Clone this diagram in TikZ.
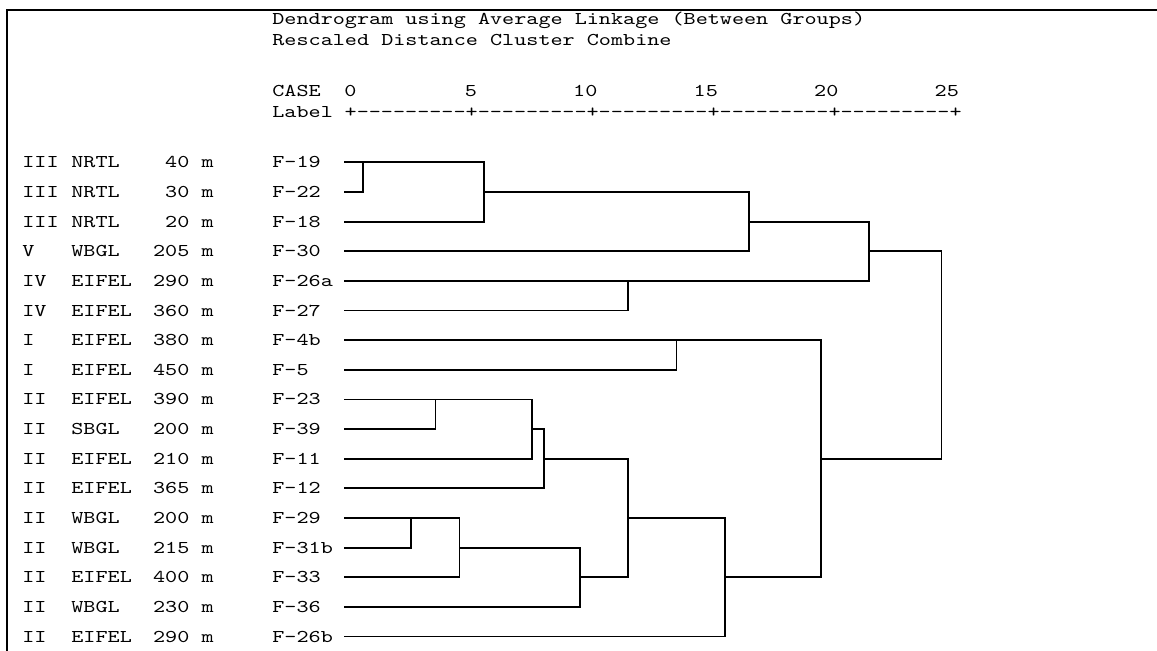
\documentclass[tikz,border=0pt]{standalone}
\usepackage{fontspec}
\newfontfamily\spssfont{lmmono10-regular.otf}[FakeStretch=1.28]

\begin{document}
\begin{tikzpicture}[x=0.5pt,y=0.5pt]
\tikzstyle{every node}+=[inner sep=0pt, font={\fontsize{9}{11}\spssfont}]
\tikzstyle{lbl}=[anchor=base west]
\tikzstyle{num}=[anchor=base east]
\tikzstyle{tick}=[anchor=base]
\tikzstyle{link}=[line width=0.9pt]
\useasboundingbox (0,0) rectangle (1157,-651);
\draw [link] (1157,-10) -| (7,-651);
\node [lbl] (title) at (272,-24.5) {Dendrogram using Average Linkage (Between Groups)};
\node [lbl] (subtitle) at (272,-46) {Rescaled Distance Cluster Combine};
\node [lbl] (case) at (272,-97) {CASE};
\node [tick] (t0) at (350.3,-97) {0};
\node [tick] (t5) at (470.8,-97) {5};
\node [tick] (t10) at (585.3,-97) {10};
\node [tick] (t15) at (705.8,-97) {15};
\node [tick] (t20) at (826.3,-97) {20};
\node [tick] (t25) at (946.8,-97) {25};
\node [lbl] (label) at (272,-118) {Label};
\node [lbl] (axis) at (344.3,-118) {+---------+---------+---------+---------+---------+};
\node [lbl] (g0) at (22,-167.9) {III};
\node [lbl] (a0) at (71,-167.9) {NRTL};
\node [num] (d0) at (214,-167.9) {40 m};
\node [lbl] (f19) at (272,-167.9) {F-19};
\node [lbl] (g1) at (22,-197.5) {III};
\node [lbl] (a1) at (71,-197.5) {NRTL};
\node [num] (d1) at (214,-197.5) {30 m};
\node [lbl] (f22) at (272,-197.5) {F-22};
\node [lbl] (g2) at (22,-227.2) {III};
\node [lbl] (a2) at (71,-227.2) {NRTL};
\node [num] (d2) at (214,-227.2) {20 m};
\node [lbl] (f18) at (272,-227.2) {F-18};
\node [lbl] (g3) at (22,-256.8) {V};
\node [lbl] (a3) at (71,-256.8) {WBGL};
\node [num] (d3) at (214,-256.8) {205 m};
\node [lbl] (f30) at (272,-256.8) {F-30};
\node [lbl] (g4) at (22,-286.5) {IV};
\node [lbl] (a4) at (71,-286.5) {EIFEL};
\node [num] (d4) at (214,-286.5) {290 m};
\node [lbl] (f26a) at (272,-286.5) {F-26a};
\node [lbl] (g5) at (22,-316.1) {IV};
\node [lbl] (a5) at (71,-316.1) {EIFEL};
\node [num] (d5) at (214,-316.1) {360 m};
\node [lbl] (f27) at (272,-316.1) {F-27};
\node [lbl] (g6) at (22,-345.7) {I};
\node [lbl] (a6) at (71,-345.7) {EIFEL};
\node [num] (d6) at (214,-345.7) {380 m};
\node [lbl] (f4b) at (272,-345.7) {F-4b};
\node [lbl] (g7) at (22,-375.4) {I};
\node [lbl] (a7) at (71,-375.4) {EIFEL};
\node [num] (d7) at (214,-375.4) {450 m};
\node [lbl] (f5) at (272,-375.4) {F-5};
\node [lbl] (g8) at (22,-405.0) {II};
\node [lbl] (a8) at (71,-405.0) {EIFEL};
\node [num] (d8) at (214,-405.0) {390 m};
\node [lbl] (f23) at (272,-405.0) {F-23};
\node [lbl] (g9) at (22,-434.7) {II};
\node [lbl] (a9) at (71,-434.7) {SBGL};
\node [num] (d9) at (214,-434.7) {200 m};
\node [lbl] (f39) at (272,-434.7) {F-39};
\node [lbl] (g10) at (22,-464.3) {II};
\node [lbl] (a10) at (71,-464.3) {EIFEL};
\node [num] (d10) at (214,-464.3) {210 m};
\node [lbl] (f11) at (272,-464.3) {F-11};
\node [lbl] (g11) at (22,-493.9) {II};
\node [lbl] (a11) at (71,-493.9) {EIFEL};
\node [num] (d11) at (214,-493.9) {365 m};
\node [lbl] (f12) at (272,-493.9) {F-12};
\node [lbl] (g12) at (22,-523.6) {II};
\node [lbl] (a12) at (71,-523.6) {WBGL};
\node [num] (d12) at (214,-523.6) {200 m};
\node [lbl] (f29) at (272,-523.6) {F-29};
\node [lbl] (g13) at (22,-553.2) {II};
\node [lbl] (a13) at (71,-553.2) {WBGL};
\node [num] (d13) at (214,-553.2) {215 m};
\node [lbl] (f31b) at (272,-553.2) {F-31b};
\node [lbl] (g14) at (22,-582.9) {II};
\node [lbl] (a14) at (71,-582.9) {EIFEL};
\node [num] (d14) at (214,-582.9) {400 m};
\node [lbl] (f33) at (272,-582.9) {F-33};
\node [lbl] (g15) at (22,-612.5) {II};
\node [lbl] (a15) at (71,-612.5) {WBGL};
\node [num] (d15) at (214,-612.5) {230 m};
\node [lbl] (f36) at (272,-612.5) {F-36};
\node [lbl] (g16) at (22,-642.1) {II};
\node [lbl] (a16) at (71,-642.1) {EIFEL};
\node [num] (d16) at (214,-642.1) {290 m};
\node [lbl] (f26b) at (272,-642.1) {F-26b};
\coordinate (c0) at (344,-162.4);
\coordinate (c1) at (344,-192.0);
\coordinate (c2) at (344,-221.7);
\coordinate (c3) at (344,-251.3);
\coordinate (c4) at (344,-281.0);
\coordinate (c5) at (344,-310.6);
\coordinate (c6) at (344,-340.2);
\coordinate (c7) at (344,-369.9);
\coordinate (c8) at (344,-399.5);
\coordinate (c9) at (344,-429.2);
\coordinate (c10) at (344,-458.8);
\coordinate (c11) at (344,-488.4);
\coordinate (c12) at (344,-518.1);
\coordinate (c13) at (344,-547.7);
\coordinate (c14) at (344,-577.4);
\coordinate (c15) at (344,-607.0);
\coordinate (c16) at (344,-636.6);
\coordinate (k1) at (363.1,-162.4);
\coordinate (k2) at (483.6,-192.0);
\coordinate (k3) at (748.7,-221.7);
\coordinate (k4) at (628.2,-281.0);
\coordinate (k5) at (869.2,-251.3);
\coordinate (k6) at (676.4,-340.2);
\coordinate (k7) at (435.4,-399.5);
\coordinate (k8) at (531.8,-429.2);
\coordinate (k9) at (543.8,-458.8);
\coordinate (k10) at (411.3,-518.1);
\coordinate (k11) at (459.5,-547.7);
\coordinate (k12) at (580.0,-577.4);
\coordinate (k13) at (628.2,-518.1);
\coordinate (k14) at (724.6,-577.4);
\coordinate (k15) at (821.0,-458.8);
\coordinate (k16) at (941.5,-340.2);
\draw [link] (c0) -| (k1) |- (c1);
\draw [link] (k1) -| (k2) |- (c2);
\draw [link] (k2) -| (k3) |- (c3);
\draw [link] (c4) -| (k4) |- (c5);
\draw [link] (k3) -| (k5) |- (k4);
\draw [link] (c6) -| (k6) |- (c7);
\draw [link] (c8) -| (k7) |- (c9);
\draw [link] (k7) -| (k8) |- (c10);
\draw [link] (k8) -| (k9) |- (c11);
\draw [link] (c12) -| (k10) |- (c13);
\draw [link] (k10) -| (k11) |- (c14);
\draw [link] (k11) -| (k12) |- (c15);
\draw [link] (k9) -| (k13) |- (k12);
\draw [link] (k13) -| (k14) |- (c16);
\draw [link] (k6) -| (k15) |- (k14);
\draw [link] (k5) -| (k16) |- (k15);
\end{tikzpicture}
\end{document}
